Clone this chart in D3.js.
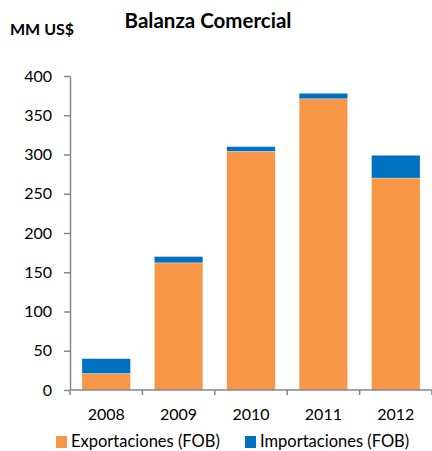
<!DOCTYPE html>
<html>
<head>
<meta charset="utf-8">
<script src="https://cdn.jsdelivr.net/npm/d3@7"></script>
<style>
    body { margin: 0; background: #fff; }
    text { font-family: Lato, "Open Sans", sans-serif; fill: #000; }
</style>
</head>
<body>
<svg id="chart"></svg>
<script>
// Data
const years = ["2008", "2009", "2010", "2011", "2012"];
const exportaciones = [21, 162, 304, 371, 270];
const importaciones = [19, 8, 6, 7, 29];
const yTicks = [0, 50, 100, 150, 200, 250, 300, 350, 400];
const seriesNames = ["Exportaciones (FOB)", "Importaciones (FOB)"];
const seriesColors = ["#F79646", "#0070C0"];

const totalWidth = 432, totalHeight = 451;
const margin = { top: 76, right: 0, bottom: 61, left: 70 };
const width = totalWidth - margin.left - margin.right;
const height = totalHeight - margin.top - margin.bottom;

const svg = d3.select("#chart")
    .attr("width", totalWidth)
    .attr("height", totalHeight);

const g = svg.append("g")
    .attr("transform", `translate(${margin.left},${margin.top})`);

// Stack the two series
const table = years.map((y, i) => ({ year: y, exp: exportaciones[i], imp: importaciones[i] }));
const stacked = d3.stack().keys(["exp", "imp"])(table);

const x = d3.scaleBand()
    .domain(years)
    .range([0, width])
    .paddingInner(0.33)
    .paddingOuter(0.165);

const y = d3.scaleLinear()
    .domain([0, 400])
    .range([height, 0]);

// Bars
g.selectAll("g.series")
    .data(stacked)
    .join("g")
    .attr("class", "series")
    .attr("fill", (d, i) => seriesColors[i])
    .selectAll("rect")
    .data(d => d)
    .join("rect")
    .attr("x", d => x(d.data.year))
    .attr("y", d => y(d[1]))
    .attr("width", x.bandwidth())
    .attr("height", d => y(d[0]) - y(d[1]))
    .attr("stroke", "#fff")
    .attr("stroke-opacity", 0.5)
    .attr("stroke-width", 0.6);

// Y axis
const yAxis = g.append("g")
    .call(d3.axisLeft(y).tickValues(yTicks).tickSize(6).tickSizeOuter(0).tickPadding(12));
yAxis.select(".domain").attr("stroke", "#868686").attr("stroke-width", 1.5);
yAxis.selectAll(".tick line").attr("stroke", "#868686").attr("stroke-width", 1.5);
yAxis.selectAll(".tick text")
    .style("font-size", "16px")
    .attr("font-family", null)
    .attr("fill", "#000");

// X axis with tick marks at category boundaries
const xAxis = g.append("g")
    .attr("transform", `translate(0,${height})`);
xAxis.append("line")
    .attr("x1", 0).attr("x2", width)
    .attr("stroke", "#868686").attr("stroke-width", 1.5);
const step = x.step();
d3.range(years.length + 1).forEach(i => {
    xAxis.append("line")
        .attr("x1", i * step).attr("x2", i * step)
        .attr("y1", 0).attr("y2", 5)
        .attr("stroke", "#868686").attr("stroke-width", 1.5);
});
xAxis.selectAll("text.xlabel")
    .data(years)
    .join("text")
    .attr("class", "xlabel")
    .attr("x", d => x(d) + x.bandwidth() / 2)
    .attr("y", 30)
    .attr("text-anchor", "middle")
    .style("font-size", "16px")
    .text(d => d);

// Title and unit
svg.append("text")
    .attr("x", 208)
    .attr("y", 28)
    .attr("text-anchor", "middle")
    .style("font-size", "20.5px")
    .style("font-weight", "bold")
    .text("Balanza Comercial");

svg.append("text")
    .attr("x", 10)
    .attr("y", 35)
    .style("font-size", "16px")
    .style("font-weight", "bold")
    .text("MM US$");

// Legend
const legendX = [56, 245];
const legend = svg.append("g")
    .attr("transform", `translate(0,${totalHeight - 16})`);
seriesNames.forEach((name, i) => {
    legend.append("rect")
        .attr("x", legendX[i])
        .attr("y", 1)
        .attr("width", 11)
        .attr("height", 12)
        .attr("fill", seriesColors[i]);
    legend.append("text")
        .attr("x", legendX[i] + 15)
        .attr("y", 12)
        .style("font-size", "16.5px")
        .text(name);
});
</script>
</body>
</html>
